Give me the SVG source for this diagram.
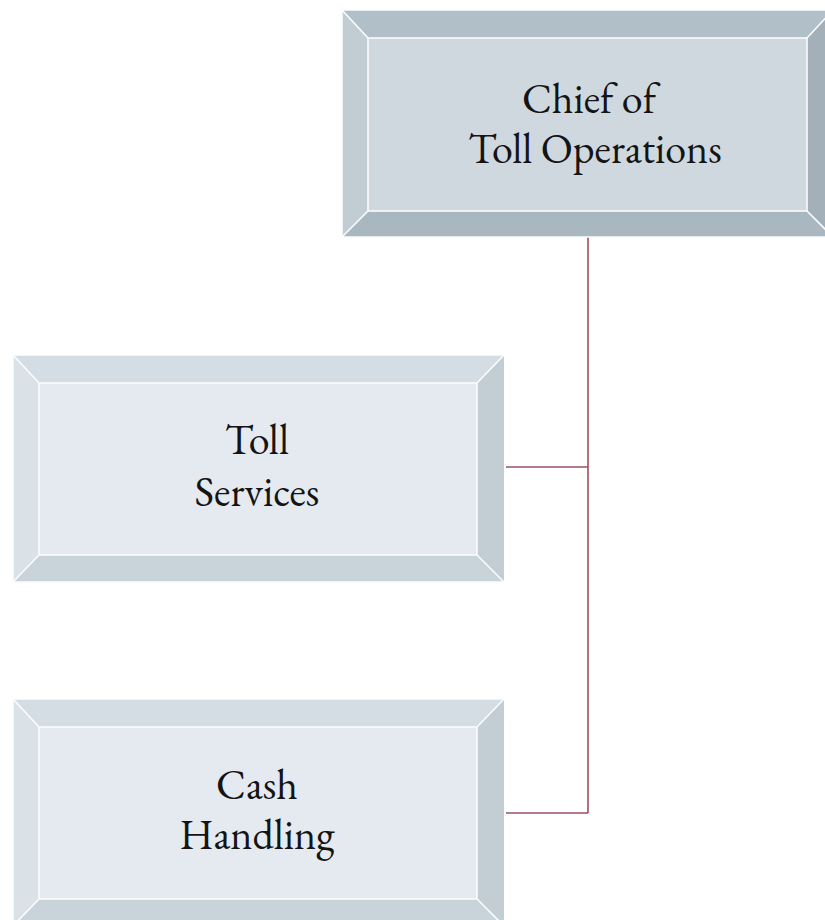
<svg xmlns="http://www.w3.org/2000/svg" width="825" height="920" viewBox="0 0 825 920">
  <style>
    .label { font-family: "EB Garamond", "Liberation Serif", "DejaVu Serif", serif; font-size: 42px; fill: #141414; text-anchor: middle; }
    .edge { stroke: #fbfcfd; stroke-width: 1.6; fill: none; }
    .link { stroke: #9b5060; stroke-width: 1.6; fill: none; }
    .dark .top { fill: #b1bfc8; } .dark .left { fill: #c1ccd3; } .dark .right { fill: #a3b0b9; } .dark .bottom { fill: #a9b7c0; } .dark .face { fill: #cfd8df; }
    .light .top { fill: #d4dde3; } .light .left { fill: #dbe2e7; } .light .right { fill: #c3cdd4; } .light .bottom { fill: #c9d3da; } .light .face { fill: #e4eaef; }
  </style>

  <rect width="825" height="920" fill="#ffffff"/>

  <!-- connectors -->
  <g id="connectors">
    <path class="link" d="M588 237 V813"/>
    <path class="link" d="M506 467 H588"/>
    <path class="link" d="M506 813 H588"/>
  </g>

  <!-- Chief of Toll Operations -->
  <g id="chief" class="dark">
    <polygon class="top" points="342,10 833,10 807,38 368,38"/>
    <polygon class="left" points="342,10 368,38 368,211 342,237"/>
    <polygon class="right" points="833,10 833,237 807,211 807,38"/>
    <polygon class="bottom" points="342,237 368,211 807,211 833,237"/>
    <rect class="face" x="368" y="38" width="439" height="173"/>
    <path class="edge" d="M342 10 H833 M342 10 V237 H833 M342 10 L368 38 M807 38 L833 10 M368 211 L342 237 M807 211 L833 237"/>
    <rect class="edge" x="368" y="38" width="439" height="173"/>
    <text class="label" y="113"><tspan x="589">Chief of</tspan><tspan x="595" dy="50">Toll Operations</tspan></text>
  </g>

  <!-- Toll Services -->
  <g id="toll-services" class="light">
    <polygon class="top" points="13,355 504,355 477,383 39,383"/>
    <polygon class="left" points="13,355 39,383 39,555 13,582"/>
    <polygon class="right" points="504,355 504,582 477,555 477,383"/>
    <polygon class="bottom" points="13,582 39,555 477,555 504,582"/>
    <rect class="face" x="39" y="383" width="438" height="172"/>
    <path class="edge" d="M13 355 H504 M13 355 V582 H504 M13 355 L39 383 M477 383 L504 355 M39 555 L13 582 M477 555 L504 582"/>
    <rect class="edge" x="39" y="383" width="438" height="172"/>
    <text class="label" y="454"><tspan x="257">Toll</tspan><tspan x="257" dy="52">Services</tspan></text>
  </g>

  <!-- Cash Handling -->
  <g id="cash-handling" class="light">
    <polygon class="top" points="13,699 504,699 477,727 39,727"/>
    <polygon class="left" points="13,699 39,727 39,899 13,926"/>
    <polygon class="right" points="504,699 504,926 477,899 477,727"/>
    <polygon class="bottom" points="13,926 39,899 477,899 504,926"/>
    <rect class="face" x="39" y="727" width="438" height="172"/>
    <path class="edge" d="M13 699 H504 M13 699 V926 M13 699 L39 727 M477 727 L504 699 M39 899 L13 926 M477 899 L504 926"/>
    <rect class="edge" x="39" y="727" width="438" height="172"/>
    <text class="label" y="799"><tspan x="257">Cash</tspan><tspan x="257" dy="50">Handling</tspan></text>
  </g>
</svg>
